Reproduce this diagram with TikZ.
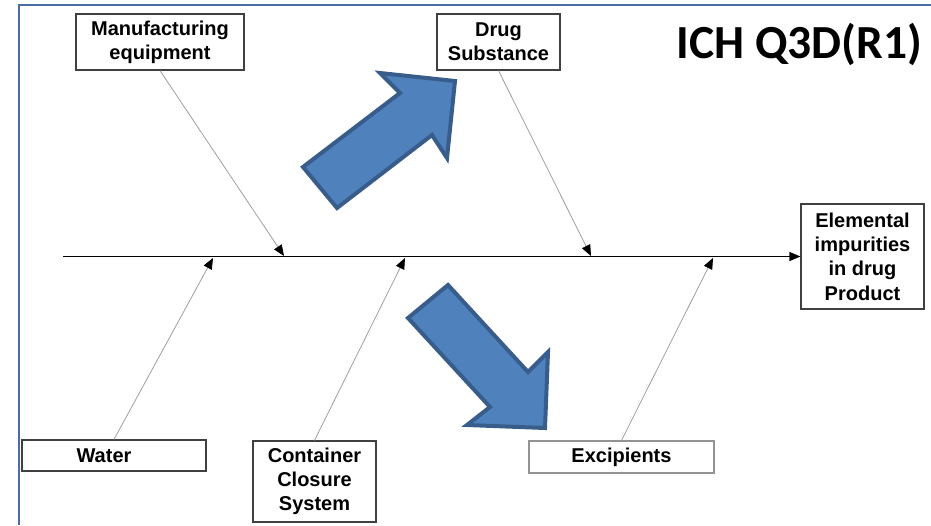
\documentclass[tikz,border=0pt]{standalone}
\usepackage{fontspec}
\setmainfont{Liberation Sans}
\newfontfamily\titlefont{Carlito}
\usetikzlibrary{arrows.meta}
\definecolor{framecol}{HTML}{4A6DA7}
\definecolor{arrowfill}{HTML}{4F81BD}
\definecolor{arrowedge}{HTML}{385D8A}
\definecolor{boxedge}{HTML}{404040}
\tikzset{
  labelbox/.style={draw=boxedge, line width=1.2pt, fill=white, align=center,
    font=\fontsize{20}{24.3}\selectfont\bfseries, inner sep=0pt},
  branch/.style={draw=gray!75, line width=0.8pt,
    -{Triangle[length=11pt,width=9pt,color=black,fill=black]}},
  spine/.style={draw=black, line width=1.3pt,
    -{Triangle[length=11pt,width=9pt]}},
  blockarrow/.style={fill=arrowfill, draw=arrowedge, line width=4pt, line join=miter},
  frameline/.style={draw=framecol, line width=2.5pt}
}
\begin{document}
\begin{tikzpicture}[x=1pt,y=-1pt]
\useasboundingbox (0,0) rectangle (931,525);
% frame
\draw[frameline] (19,525) -- (19,5) -- (931,5);
% title
\node (title) at (799.5,44) {\titlefont\fontsize{47.5}{50}\selectfont\bfseries ICH Q3D(R1)};
% boxes
\node[labelbox, minimum width=168pt, minimum height=56pt] (me) at (160,42) {Manufacturing\\equipment};
\node[labelbox, minimum width=123pt, minimum height=56pt] (ds) at (498.5,42) {Drug\\Substance};
\node[labelbox, minimum width=123pt, minimum height=105pt] (el) at (862.5,256.5) {Elemental\\impurities\\in drug\\Product};
\node[labelbox, minimum width=184pt, minimum height=31pt] (wa) at (114,455.5) {Water\hspace{20pt}};
\node[labelbox, minimum width=123pt, minimum height=81pt] (cc) at (314.5,481.5) {Container\\Closure\\System};
\node[labelbox, draw=gray!85, minimum width=185pt, minimum height=32pt] (ex) at (621.5,457) {Excipients};
% spine
\coordinate (sp) at (63,256.5);
\draw[spine] (sp) -- (el.west);
% branch tips
\coordinate (t1) at (284,256);
\coordinate (t2) at (591,256);
\coordinate (t3) at (213,258);
\coordinate (t4) at (405,258);
\coordinate (t5) at (713,258);
\draw[branch] (me.south) -- (t1);
\draw[branch] (ds.south) -- (t2);
\draw[branch] (wa.north) -- (t3);
\draw[branch] (cc.north) -- (t4);
\draw[branch] (ex.north) -- (t5);
% block arrows
\draw[blockarrow] (303,167) -- (400,93) -- (380,73) -- (455,81) -- (447,158) -- (432,135) -- (337,208) -- cycle;
\draw[blockarrow] (448,285) -- (528,372) -- (548,352) -- (545,428) -- (467,425) -- (490,407) -- (408,318) -- cycle;
\end{tikzpicture}
\end{document}
